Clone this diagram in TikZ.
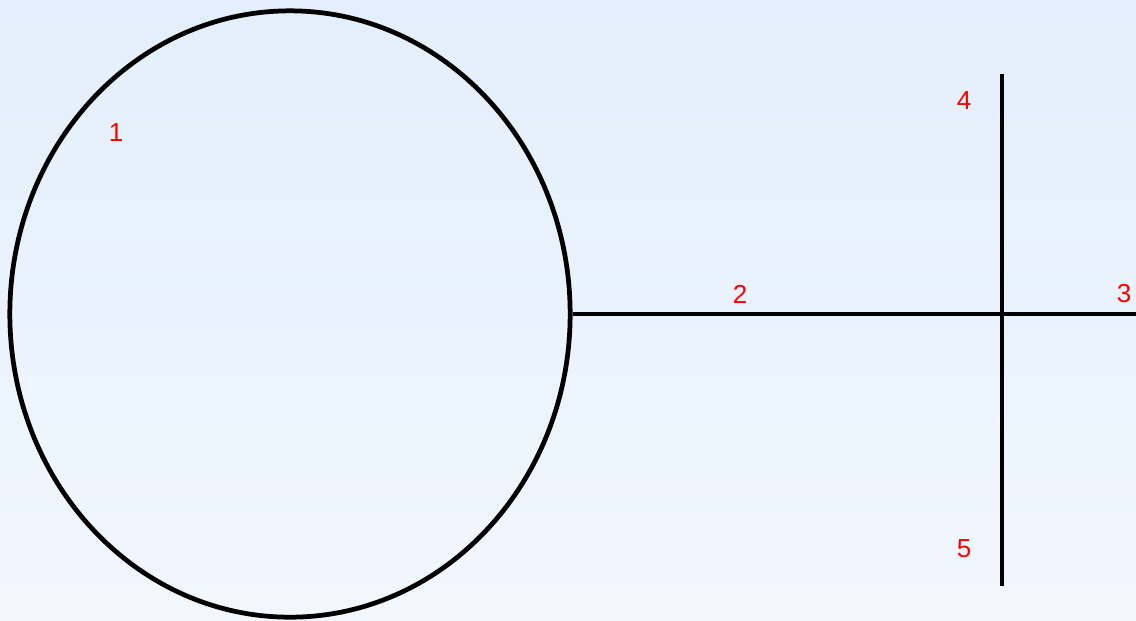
\documentclass[tikz,border=0pt]{standalone}
\usepackage{fontspec}
\setmainfont{Liberation Sans}
\usepackage{xcolor}
\usetikzlibrary{shapes.geometric,positioning,calc}
\definecolor{skytop}{HTML}{E3EFFC}
\definecolor{skybot}{HTML}{F1F7FD}

\begin{document}
\begin{tikzpicture}[x=0.01cm,y=-0.01cm,font=\fontsize{7.4}{9}\selectfont]
  % background and page size
  \shade[top color=skytop,bottom color=skybot] (0,0) rectangle (1136,620);
  \useasboundingbox (0,0) rectangle (1136,620);
  \tikzset{wire/.style={draw=black,line width=1.35pt},
           tag/.style={text=red,inner sep=0pt}}
  % loop
  \node[ellipse,wire,minimum width=5.6cm,minimum height=6.06cm,inner sep=0pt] (loop) at (290,314) {};
  % stub and cross bar
  \coordinate (tee) at (1002,314);
  \coordinate (rend) at (1136,314);
  \coordinate (top) at (1002,74);
  \coordinate (bot) at (1002,586);
  \draw[wire] (loop.east) -- (tee) -- (rend);
  \draw[wire] (top) -- (bot);
  % labels
  \node[tag] (t1) at (116,133) {1};
  \node[tag] (t2) at (740,294) {2};
  \node[tag] (t3) at (1124,294) {3};
  \node[tag] (t4) at (964,101) {4};
  \node[tag] (t5) at (964,549) {5};
\end{tikzpicture}
\end{document}
